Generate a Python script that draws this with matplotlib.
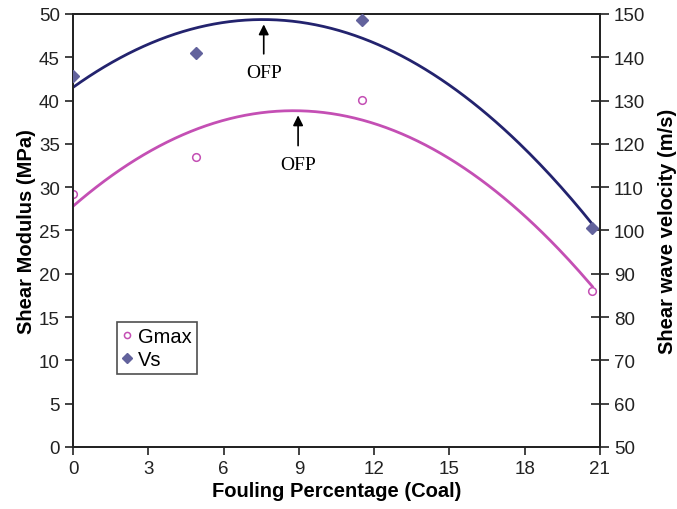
import numpy as np
from matplotlib import pyplot as plt

# data
fouling = [0, 4.9, 11.5, 20.7]
gmax = [29.2, 33.5, 40.1, 18.0]        # MPa, left axis
vs = [135.6, 141.0, 148.7, 100.5]      # m/s, right axis

x_ticks = [0, 3, 6, 9, 12, 15, 18, 21]
g_ticks = [0, 5, 10, 15, 20, 25, 30, 35, 40, 45, 50]
v_ticks = [50, 60, 70, 80, 90, 100, 110, 120, 130, 140, 150]

g_color = '#c44fb4'
v_line = '#23236e'
v_mark = '#62629c'

plt.rcParams['font.family'] = ['Liberation Sans', 'DejaVu Sans']

fig = plt.figure(figsize=(6.77, 5.10), dpi=100)
ax = fig.add_axes([0.108, 0.1216, 0.778, 0.849])
ax2 = ax.twinx()

# Excel-like 2nd order trendlines
xs = np.linspace(fouling[0], fouling[-1], 200)
g_fit = np.polyval(np.polyfit(fouling, gmax, 2), xs)
v_fit = np.polyval(np.polyfit(fouling, vs, 2), xs)

ax.plot(xs, g_fit, color=g_color, lw=2, zorder=2)
h1, = ax.plot(fouling, gmax, 'o', mfc='white', mec=g_color, mew=1.1, ms=5.5,
              label='Gmax', zorder=3)
ax2.plot(xs, v_fit, color=v_line, lw=2, zorder=2)
h2, = ax2.plot(fouling, vs, 'D', color=v_mark, ms=6.5, label='Vs', zorder=3)

ax.set_xlim(0, 21)
ax.set_ylim(0, 50)
ax2.set_ylim(50, 150)
ax.set_xticks(x_ticks)
ax.set_yticks(g_ticks)
ax2.set_yticks(v_ticks)

ax.tick_params(axis='both', labelsize=13.5, length=6, width=1.2, colors='#222222')
ax.tick_params(axis='y', direction='out')
ax2.tick_params(axis='y', direction='inout', length=13, width=1.2,
                labelsize=13.5, colors='#222222')
for a in (ax, ax2):
    for s in a.spines.values():
        s.set_linewidth(1.3)
        s.set_color('#222222')

ax.set_xlabel('Fouling Percentage (Coal)', fontsize=14.5, fontweight='bold',
              labelpad=3)
ax.set_ylabel('Shear Modulus (MPa)', fontsize=14.5, fontweight='bold', labelpad=2)
ax2.set_ylabel('Shear wave velocity (m/s)', fontsize=14.5, fontweight='bold',
               labelpad=9)

# optimum fouling percentage markers
arrow = dict(arrowstyle='-|>', color='black', lw=1.2, mutation_scale=15,
             shrinkA=0, shrinkB=0)
ax.annotate('', xy=(7.6, 48.8), xytext=(7.6, 45.4), arrowprops=arrow)
ax.text(7.6, 43.3, 'OFP', ha='center', va='center', fontsize=14,
        family='Liberation Serif')
ax.annotate('', xy=(8.97, 38.3), xytext=(8.97, 34.8), arrowprops=arrow)
ax.text(8.97, 32.6, 'OFP', ha='center', va='center', fontsize=14,
        family='Liberation Serif')

leg = ax.legend(handles=[h1, h2], loc='lower left', bbox_to_anchor=(0.083, 0.168),
                fontsize=14.5, frameon=True, fancybox=False, borderpad=0.25,
                handlelength=0.5, handletextpad=0.3, labelspacing=0.2,
                borderaxespad=0, markerscale=0.8)
leg.get_frame().set_edgecolor('#222222')
leg.get_frame().set_linewidth(1.2)

fig.savefig('out.png', dpi=100)
